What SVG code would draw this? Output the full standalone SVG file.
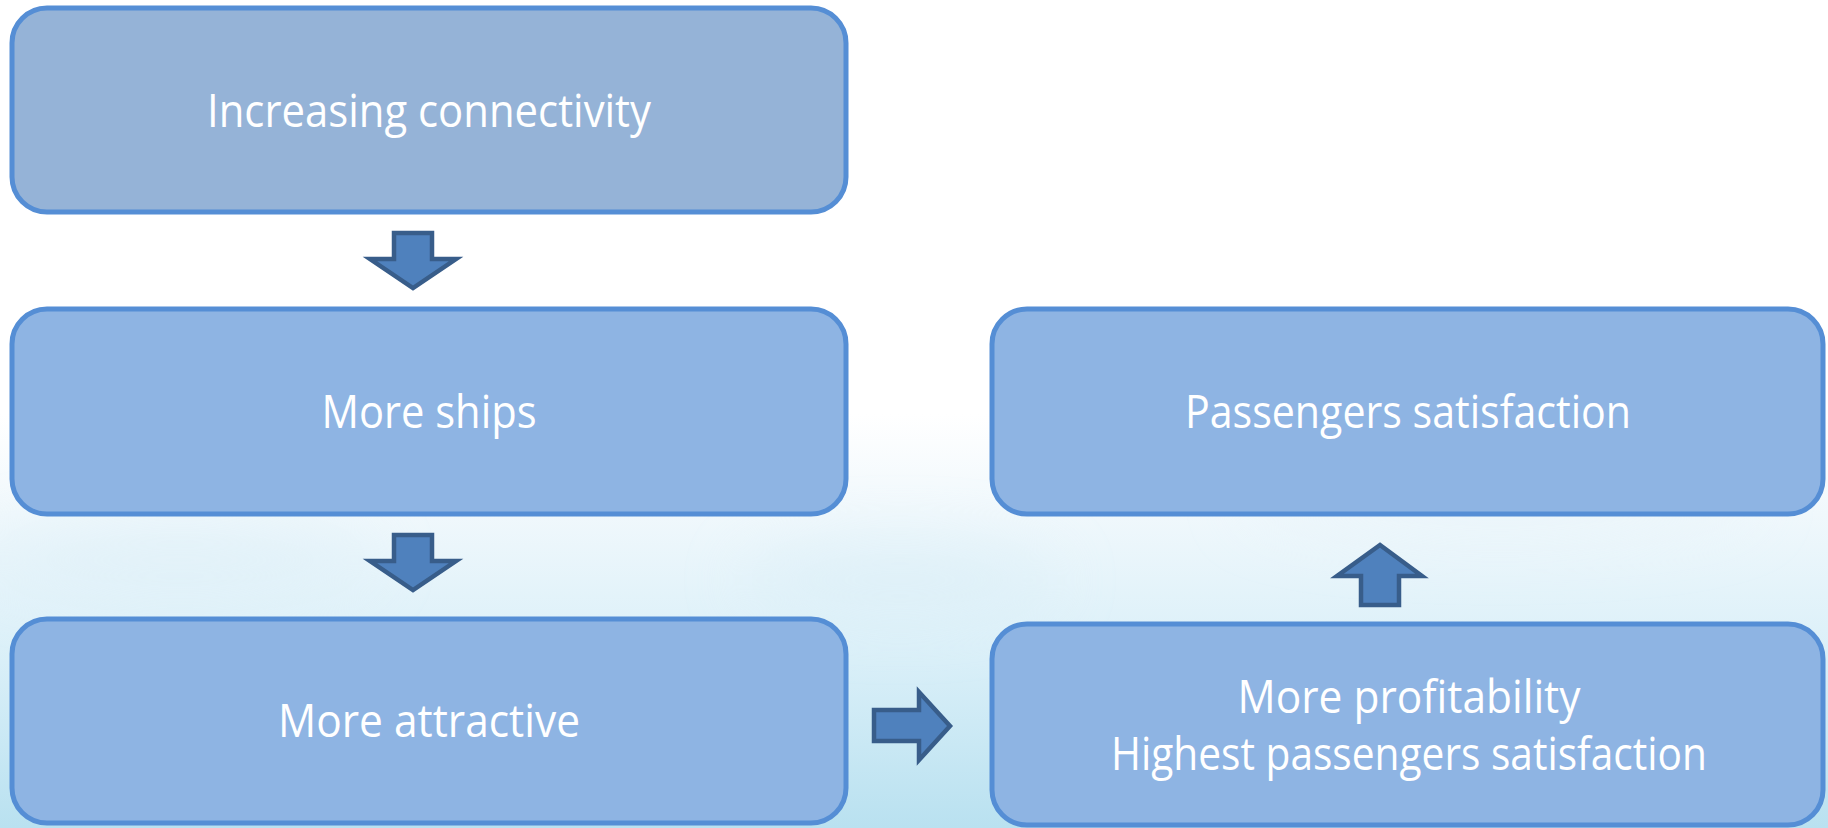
<svg xmlns="http://www.w3.org/2000/svg" width="1828" height="828" viewBox="0 0 1828 828">
<defs>
<linearGradient id="bg" x1="0" y1="0" x2="0" y2="1">
<stop offset="0" stop-color="#ffffff"/>
<stop offset="0.5" stop-color="#ffffff"/>
<stop offset="0.62" stop-color="#f0f8fc"/>
<stop offset="0.8" stop-color="#d9eff8"/>
<stop offset="1" stop-color="#b9e1f0"/>
</linearGradient>
<filter id="soft" x="-50%" y="-50%" width="200%" height="200%"><feGaussianBlur stdDeviation="30"/></filter>
<style>
.box{fill:#8eb4e3;stroke:#558ed5;stroke-width:5}
.box1{fill:#95b3d7}
.arr{fill:#4f81bd;stroke:#385d8a;stroke-width:4.5;stroke-linejoin:miter}
.lbl{font-family:"Open Sans","Liberation Sans",sans-serif;font-size:45px;fill:#ffffff;text-anchor:middle}
</style>
</defs>
<rect width="1828" height="828" fill="url(#bg)"/>
<g opacity="0.5" filter="url(#soft)">
<ellipse cx="180" cy="560" rx="200" ry="40" fill="#dbeef7"/>
<ellipse cx="1500" cy="500" rx="260" ry="40" fill="#e6f3f9"/>
<ellipse cx="900" cy="580" rx="160" ry="40" fill="#d8edf6"/>
</g>
<g id="n1">
<rect class="box box1" x="12" y="8" width="834" height="204" rx="35" ry="35"/>
<text class="lbl" x="429" y="127" textLength="444" lengthAdjust="spacingAndGlyphs">Increasing connectivity</text>
</g>
<g id="n2">
<rect class="box" x="12" y="309" width="834" height="205" rx="35" ry="35"/>
<text class="lbl" x="429" y="428" textLength="215" lengthAdjust="spacingAndGlyphs">More ships</text>
</g>
<g id="n3">
<rect class="box" x="12" y="619" width="834" height="204" rx="35" ry="35"/>
<text class="lbl" x="429" y="737" textLength="302" lengthAdjust="spacingAndGlyphs">More attractive</text>
</g>
<g id="n4">
<rect class="box" x="992" y="309" width="831" height="205" rx="35" ry="35"/>
<text class="lbl" x="1408" y="428" textLength="446" lengthAdjust="spacingAndGlyphs">Passengers satisfaction</text>
</g>
<g id="n5">
<rect class="box" x="992" y="624" width="831" height="201" rx="35" ry="35"/>
<text class="lbl" x="1409" y="713" textLength="343" lengthAdjust="spacingAndGlyphs">More profitability</text>
<text class="lbl" x="1409" y="770" textLength="596" lengthAdjust="spacingAndGlyphs">Highest passengers satisfaction</text>
</g>
<g id="connectors">
<polygon class="arr" points="394,233 432,233 432,259 456,259 413,288 370,259 394,259"/>
<polygon class="arr" points="394,535 432,535 432,561 456,561 413,590 370,561 394,561"/>
<polygon class="arr" points="874,710 919,710 919,692 950,726 919,760 919,741 874,741"/>
<polygon class="arr" points="1361,605 1399,605 1399,576 1422,576 1380,545 1337,576 1361,576"/>
</g>
</svg>
